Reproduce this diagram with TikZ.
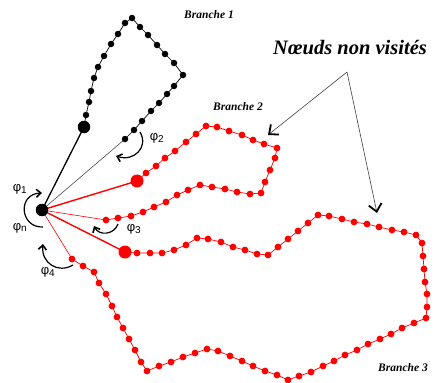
\documentclass[tikz,border=0pt]{standalone}
\usepackage{fontspec}
\setmainfont{Liberation Serif}
\newfontfamily\phifont{Liberation Sans}
\usetikzlibrary{arrows.meta}
\tikzset{
  bdot/.style={circle,fill=black,inner sep=0pt,minimum size=6.5pt},
  rdot/.style={circle,fill=red,inner sep=0pt,minimum size=6.8pt},
  bigb/.style={circle,fill=black,inner sep=0pt,minimum size=12.5pt},
  bigr/.style={circle,fill=red,inner sep=0pt,minimum size=13pt},
  bchain/.style={black,line width=0.7pt},
  rchain/.style={red,line width=0.7pt},
  thickb/.style={black,line width=1.3pt},
  thickr/.style={red,line width=1.4pt},
  thinb/.style={black!70,line width=0.6pt},
  thinr/.style={red,line width=0.6pt},
  phiarrow/.style={black,line width=1.2pt,-{Straight Barb[length=4.5pt,width=8pt,line width=1.6pt]}},
  callout/.style={black!75,line width=0.6pt,-{Straight Barb[length=7.5pt,width=13pt,line width=1.8pt,black]}},
  blabel/.style={font=\fontsize{11.5}{13}\selectfont\bfseries\itshape},
  philabel/.style={font=\phifont\fontsize{13}{15}\selectfont},
}
\newcommand{\phis}[1]{φ\textsubscript{\fontsize{10}{11}\selectfont #1}}
\begin{document}
\begin{tikzpicture}[x=1pt,y=-1pt]
\useasboundingbox (0,0) rectangle (434,383);

% main nodes positions
\coordinate (c) at (42,210);
\coordinate (b1big) at (84,127);
\coordinate (b2big) at (137,181);
\coordinate (b3big) at (125,252);

% ---------- Branch 1 (black) ----------
\foreach \x/\y [count=\i] in {86/115,89/102,91/91,94/78,98/67,104/56,111/44,118/34,125/23,132/18,140/27,148/35,157/45,165/54,174/63,183/75,174/86,167/94,159/103,151/111,142/121,134/130,125/139}
  \coordinate (a\i) at (\x,\y);
\draw[bchain] (b1big) -- (a1) \foreach \i in {2,...,23}{ -- (a\i)};
\draw[thinb] (c) -- (a23);
\draw[thickb] (c) -- (b1big);

% ---------- Branch 2 (red, upper) ----------
\foreach \x/\y [count=\i] in {146/173,156/166,165/158,175/151,186/142,196/134,206/126,217/127,229/131,242/135,253/140,264/144,277/148,275/158,270/170,265/182,261/193,250/194,237/192,225/189,212/187,200/185,188/190,177/195,166/202,154/207,143/212,131/216,118/218,106/220}
  \coordinate (r\i) at (\x,\y);
\draw[rchain] (b2big) -- (r1) \foreach \i in {2,...,30}{ -- (r\i)};
\draw[thinr] (c) -- (r30);
\draw[thickr] (c) -- (b2big);

% ---------- Branch 3 (red, lower) ----------
\foreach \x/\y [count=\i] in {137/253,150/253,162/253,174/250,186/245,197/238,208/239,221/242,233/247,245/250,257/254,268/255,278/247,288/239,298/231,308/223,318/215,329/216,342/219,354/222,367/224,379/227,392/230,404/232,416/235,422/243,423/256,424/269,425/282,427/294,427/307,426/318,414/323,402/328,391/334,380/339,368/344,357/350,345/355,334/361,323/366,311/372,299/376,288/380,277/375,265/371,253/366,242/361,230/356,218/351,207/349,195/353,183/357,171/362,159/366,147/371,141/362,135/350,129/339,123/328,117/317,112/306,106/294,99/283,94/272,83/266,72/259,61/254}
  \coordinate (s\i) at (\x,\y);
\draw[rchain] (b3big) -- (s1) \foreach \i in {2,...,67}{ -- (s\i)};
\draw[thinr] (c) -- (s67);
\draw[thickr] (c) -- (b3big);

% ---------- dots ----------
\foreach \i in {1,...,23} \node[bdot] (na\i) at (a\i) {};
\foreach \i in {1,...,30} \node[rdot] (nr\i) at (r\i) {};
\foreach \i in {1,...,67} \node[rdot] (ns\i) at (s\i) {};
\node[bigb] (nb1) at (b1big) {};
\node[bigr] (nb2) at (b2big) {};
\node[bigr] (nb3) at (b3big) {};
\node[bigb] (center) at (c) {};

% ---------- angle arrows ----------
\coordinate (p2s) at (140,132); \coordinate (p2e) at (116,156);
\draw[phiarrow] (p2s) .. controls (149,147) and (134,162) .. (p2e);
\coordinate (p3s) at (118,224); \coordinate (p3e) at (94,226);
\draw[phiarrow] (p3s) .. controls (114,235) and (99,236) .. (p3e);
\coordinate (p4s) at (73,265); \coordinate (p4e) at (43,244);
\draw[phiarrow] (p4s) .. controls (58,274) and (41,263) .. (p4e);
\coordinate (p1s) at (43,227); \coordinate (p1e) at (42,193);
\draw[phiarrow] (p1s) .. controls (20,228) and (17,194) .. (p1e);

\node[philabel] (l1) at (20,189) {\phis{1}};
\node[philabel] (ln) at (20,228) {\phis{n}};
\node[philabel] (l2) at (157,138) {\phis{2}};
\node[philabel] (l3) at (134,229) {\phis{3}};
\node[philabel] (l4) at (48,272) {\phis{4}};

% ---------- labels ----------
\node[blabel] (t1) at (209,15) {Branche 1};
\node[blabel] (t2) at (238,107) {Branche 2};
\node[blabel] (t3) at (403,368) {Branche 3};
\node[font=\fontsize{20.5}{24}\selectfont\bfseries\itshape] (nv) at (350,47) {Nœuds non visités};

\coordinate (hub) at (347,72);
\coordinate (tg2) at (268,135);
\coordinate (tg3) at (377,213);
\draw[callout] (hub) -- (tg2);
\draw[callout] (hub) -- (tg3);
\end{tikzpicture}
\end{document}
